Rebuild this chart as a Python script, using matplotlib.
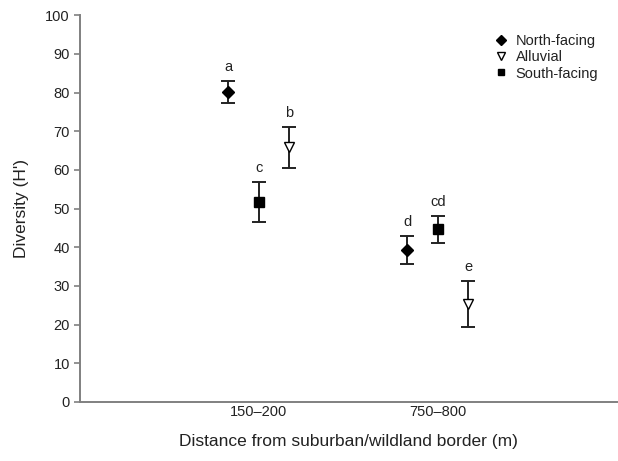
import matplotlib
matplotlib.use("Agg")
import matplotlib.pyplot as plt

plt.rcParams['font.family'] = ['Liberation Sans', 'DejaVu Sans']

categories = ["150–200", "750–800"]
series = ["North-facing", "Alluvial", "South-facing"]
north_vals = [80.2, 39.3]
north_err = [2.8, 3.7]
alluvial_vals = [65.8, 25.3]
alluvial_err = [5.2, 5.9]
south_vals = [51.8, 44.6]
south_err = [5.2, 3.4]
north_letters = ["a", "d"]
alluvial_letters = ["b", "e"]
south_letters = ["c", "cd"]
yticks = [0, 10, 20, 30, 40, 50, 60, 70, 80, 90, 100]

fig = plt.figure(figsize=(6.18, 4.61), dpi=100)
ax = fig.add_axes([0.129, 0.128, 0.869, 0.839])

base = [1, 2]
specs = [
    ("North-facing", north_vals, north_err, north_letters, -0.17,
     dict(marker="D", ms=6.5, mfc="black", mec="black")),
    ("Alluvial", alluvial_vals, alluvial_err, alluvial_letters, 0.17,
     dict(marker="v", ms=7, mfc="white", mec="black", mew=1.0)),
    ("South-facing", south_vals, south_err, south_letters, 0.0,
     dict(marker="s", ms=6.5, mfc="black", mec="black")),
]

handles = {}
for name, vals, errs, letters, off, mk in specs:
    xs = [b + off for b in base]
    ax.errorbar(xs, vals, yerr=errs, fmt="none", ecolor="#222222",
                elinewidth=1.4, capsize=5, capthick=1.4, zorder=2)
    h, = ax.plot(xs, vals, linestyle="none", zorder=3, label=name, **mk)
    handles[name] = h
    for x, v, e, l in zip(xs, vals, errs, letters):
        ax.annotate(l, (x, v + e), xytext=(0, 5), textcoords="offset points",
                    ha="center", va="bottom", fontsize=10.5, color="#222222")

ax.set_xlim(0, 3)
ax.set_ylim(0, 100)
ax.set_xticks(base)
ax.set_xticklabels(categories, fontsize=10.5, color="#222222")
ax.set_yticks(yticks)
ax.set_yticklabels([str(t) for t in yticks], fontsize=10.5, color="#222222")
ax.tick_params(axis="x", length=0, pad=2)
ax.tick_params(axis="y", length=4, width=1.2, color="#808080", pad=3)
for s in ["top", "right"]:
    ax.spines[s].set_visible(False)
for s in ["left", "bottom"]:
    ax.spines[s].set_color("#808080")
    ax.spines[s].set_linewidth(1.4)

ax.set_ylabel("Diversity (H')", fontsize=12.5, color="#222222", labelpad=12)
ax.set_xlabel("Distance from suburban/wildland border (m)", fontsize=12.5,
              color="#222222", labelpad=11)

leg = ax.legend([handles[s] for s in series], series, loc="upper right",
                bbox_to_anchor=(0.99, 0.985), frameon=False, fontsize=10.5,
                handlelength=0.8, handletextpad=0.6, labelspacing=0.15,
                markerscale=0.75)
for t in leg.get_texts():
    t.set_color("#222222")

fig.savefig("out.png", dpi=100)
